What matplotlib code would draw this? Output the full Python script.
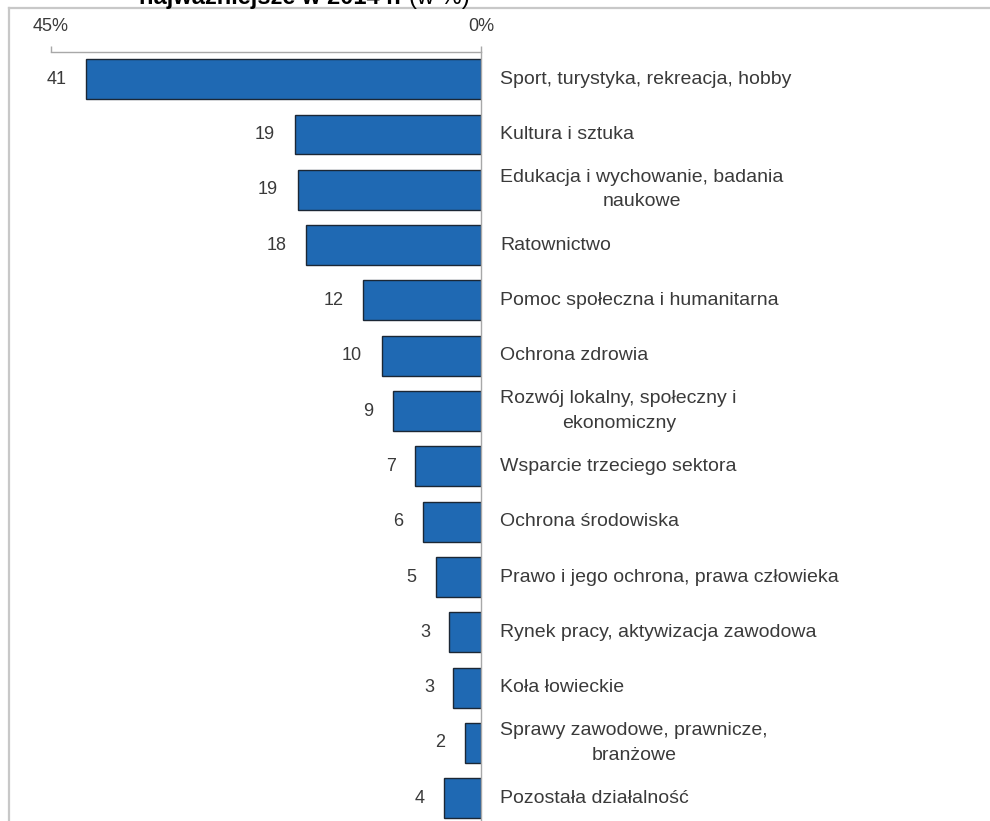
import matplotlib
matplotlib.use('Agg')
import matplotlib.pyplot as plt
from matplotlib.lines import Line2D

plt.rcParams['font.family'] = ['Liberation Sans', 'DejaVu Sans']

categories = [
    'Sport, turystyka, rekreacja, hobby',
    'Kultura i sztuka',
    'Edukacja i wychowanie, badania\nnaukowe',
    'Ratownictwo',
    'Pomoc społeczna i humanitarna',
    'Ochrona zdrowia',
    'Rozwój lokalny, społeczny i\nekonomiczny',
    'Wsparcie trzeciego sektora',
    'Ochrona środowiska',
    'Prawo i jego ochrona, prawa człowieka',
    'Rynek pracy, aktywizacja zawodowa',
    'Koła łowieckie',
    'Sprawy zawodowe, prawnicze,\nbranżowe',
    'Pozostała działalność',
]
values = [41.3, 19.5, 19.2, 18.3, 12.3, 10.4, 9.2, 6.9, 6.1, 4.7, 3.3, 2.9, 1.7, 3.9]
value_labels = ['41', '19', '19', '18', '12', '10', '9', '7', '6', '5', '3', '3', '2', '4']
tick_values = [45, 0]
tick_labels = ['45%', '0%']
title_bold = 'najważniejsze w 2014 r.'
title_normal = '(w %)'

W, H = 990, 821
fig = plt.figure(figsize=(W / 100, H / 100), dpi=100)
fig.patch.set_facecolor('white')

ax_left = 51 / W
ax_right = 481 / W
ax_top = 1 - 52 / H
ax = fig.add_axes([ax_left, 0.0, ax_right - ax_left, ax_top])

ypos = list(range(len(values)))
bar_color = '#1f69b3'
ax.barh(ypos, values, height=0.72, color=bar_color, edgecolor='#1b2735', linewidth=1.0, zorder=2)

ax.set_xlim(45, 0)
ax.set_ylim(13.41, -0.49)

text_color = '#3a3a3a'
for y, v, lab in zip(ypos, values, value_labels):
    ax.annotate(lab, xy=(v, y), xytext=(-14, 0), textcoords='offset points',
                ha='right', va='center', fontsize=13, color=text_color)

for y, cat in zip(ypos, categories):
    ax.annotate(cat, xy=(0, y), xytext=(14, 0), textcoords='offset points',
                ha='left', va='center', multialignment='center',
                fontsize=14, color=text_color, linespacing=1.55, annotation_clip=False)

ax.xaxis.tick_top()
ax.set_xticks(tick_values)
ax.set_xticklabels(tick_labels)
ax.tick_params(axis='x', direction='out', length=4, width=1, color='#a8a8a8',
               labelsize=13, labelcolor=text_color, pad=8)
ax.set_yticks([])
for s in ['left', 'bottom']:
    ax.spines[s].set_visible(False)
for s in ['top', 'right']:
    ax.spines[s].set_color('#a8a8a8')
    ax.spines[s].set_linewidth(1.0)
ax.patch.set_alpha(0)

# outer frame
fig.add_artist(Line2D([9 / W, 1], [1 - 8 / H, 1 - 8 / H], transform=fig.transFigure,
                      color='#c8c8c8', linewidth=1.6))
fig.add_artist(Line2D([9 / W, 9 / W], [0, 1 - 8 / H], transform=fig.transFigure,
                      color='#c8c8c8', linewidth=1.6))

# cut-off title
fig.text(401 / W, 1 - 4 / H, title_bold, ha='right', va='baseline',
         fontsize=17, fontweight='bold', color='black')
fig.text(409 / W, 1 - 4 / H, title_normal, ha='left', va='baseline',
         fontsize=17, color='black')

fig.savefig('out.png', dpi=100)
